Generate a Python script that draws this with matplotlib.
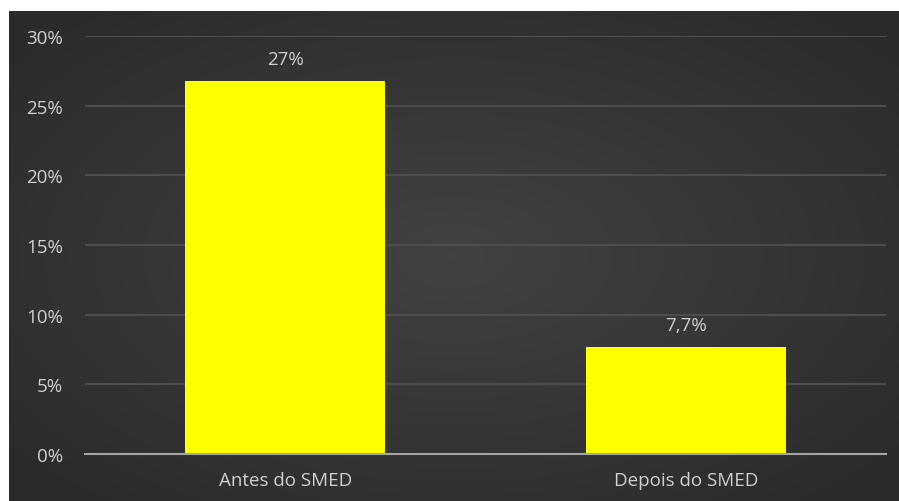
import numpy as np
import matplotlib.pyplot as plt

categories = ['Antes do SMED', 'Depois do SMED']
values = [0.268, 0.077]
value_labels = ['27%', '7,7%']
yticks = [0, 0.05, 0.10, 0.15, 0.20, 0.25, 0.30]
ytick_labels = ['0%', '5%', '10%', '15%', '20%', '25%', '30%']

plt.rcParams['font.family'] = ['Open Sans', 'DejaVu Sans']

fig = plt.figure(figsize=(8.99, 5.02), dpi=100)
fig.patch.set_facecolor('white')

# dark radial gradient background
bg = fig.add_axes([9 / 899, 0, 890 / 899, 490 / 502])
yy, xx = np.mgrid[-1:1:300j, -1:1:500j]
r = np.sqrt(xx ** 2 + yy ** 2)
grad = 0.26 - 0.09 * np.clip(r / 1.3, 0, 1)
bg.imshow(np.dstack([grad] * 3), aspect='auto', extent=[0, 1, 0, 1])
bg.axis('off')

ax = fig.add_axes([85 / 899, 1 - 455 / 502, 801 / 899, 418 / 502])
ax.patch.set_alpha(0)
x = np.arange(len(categories))
ax.bar(x, values, width=0.5, color='#ffff00', zorder=3)
for xi, v, lab in zip(x, values, value_labels):
    ax.text(xi, v + 0.009, lab, ha='center', va='bottom', color='#d0d0d0', fontsize=13.5)

ax.set_xlim(-0.5, 1.5)
ax.set_ylim(0, 0.30)
ax.set_yticks(yticks)
ax.set_yticklabels(ytick_labels)
ax.set_xticks(x)
ax.set_xticklabels(categories)
ax.tick_params(colors='#d0d0d0', labelsize=13.5, length=0)
ax.tick_params(axis='y', pad=16)
ax.tick_params(axis='x', pad=12)
ax.grid(axis='y', color='#4d4d4d', linewidth=1.5, zorder=0)
for s in ['top', 'right', 'left']:
    ax.spines[s].set_visible(False)
ax.spines['bottom'].set_color('#a6a6a6')
ax.spines['bottom'].set_linewidth(1.5)
ax.spines['bottom'].set_zorder(4)

fig.savefig('out.png', dpi=100)
